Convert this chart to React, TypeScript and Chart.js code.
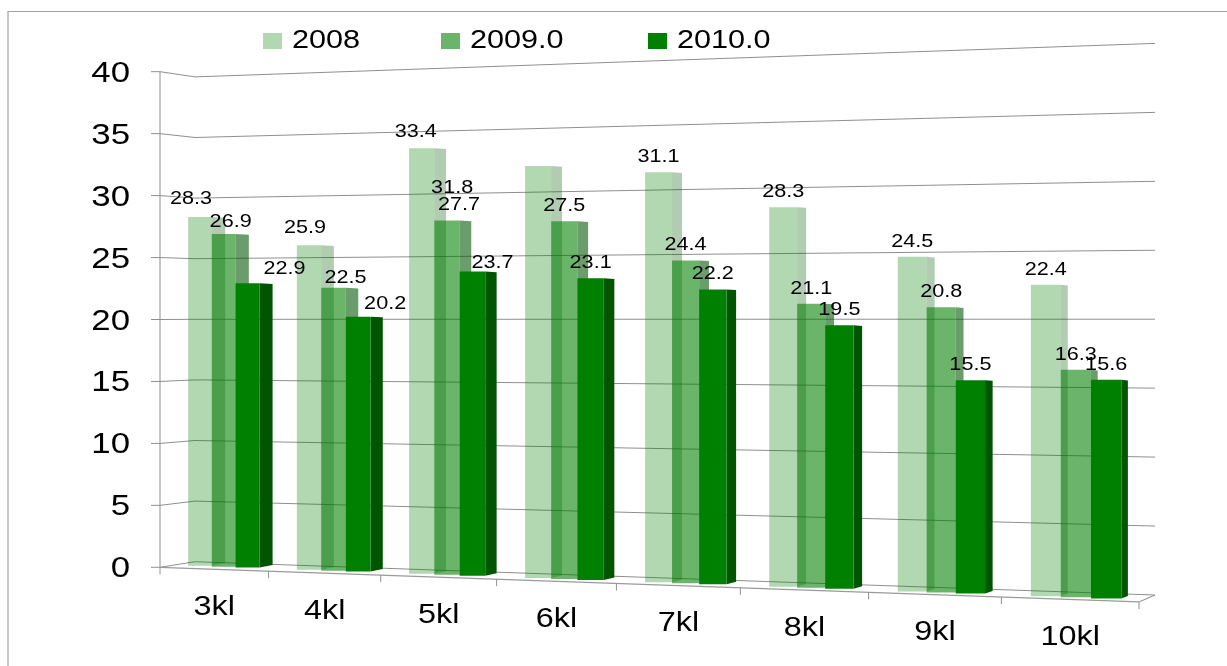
import React, { useEffect, useRef } from "react";
import { Chart, registerables } from "chart.js";

Chart.register(...registerables);

const categories = ["3kl", "4kl", "5kl", "6kl", "7kl", "8kl", "9kl", "10kl"];
const seriesNames = ["2008", "2009.0", "2010.0"];
const values2008 = [28.3, 25.9, 33.4, 31.8, 31.1, 28.3, 24.5, 22.4];
const values2009 = [26.9, 22.5, 27.7, 27.5, 24.4, 21.1, 20.8, 16.3];
const values2010 = [22.9, 20.2, 23.7, 23.1, 22.2, 19.5, 15.5, 15.6];

const frontColors = ["rgba(0,128,0,0.305)", "rgba(0,128,0,0.58)", "rgb(0,128,0)"];
const sideColors = ["rgba(0,85,0,0.3)", "rgba(0,85,0,0.58)", "rgb(0,85,0)"];
const legendSwatches = ["#b1d8b1", "#6bb56b", "#008000"];
const legendBoxX = [263, 441, 648];

// hand-placed data labels in the source: [dx, dy] from the default spot, per series and category
const labelNudges: Record<string, [number, number]> = {
  "0:0": [-9, -3],
  "1:0": [7, 3],
  "2:0": [37, 1],
  "0:1": [-4, -2],
  "1:1": [12, 5],
  "2:1": [27, 2],
  "0:2": [-6, -1],
  "1:2": [12, -1],
  "2:2": [20, 7],
  "0:3": [-86, 37],
};

const STRETCH = 1.2;
const PERSP = 1.145;
const proj = (u: number) => u / (u + PERSP * (1 - u));
const barBase = (x: number) => 568 + 0.036 * (x - 260);
const barUnit = (x: number) => 12.3 + 0.001876 * (x - 188);
const wallY = (x: number, v: number) => {
  const f = (x - 195) / 960;
  return 561.7 + f * 33.3 - v * (12.12 + f * 1.67);
};
const floorFront = (x: number) => 567.3 + (x - 160) * 0.0354;

function stretchedText(ctx: CanvasRenderingContext2D, text: string, x: number, y: number, size: number, align: CanvasTextAlign) {
  ctx.save();
  ctx.translate(x, y);
  ctx.scale(STRETCH, 1);
  ctx.font = `${size}px "Liberation Sans"`;
  ctx.fillStyle = "#000";
  ctx.textAlign = align;
  ctx.textBaseline = "middle";
  ctx.fillText(text, 0, 0);
  ctx.restore();
}

function line(ctx: CanvasRenderingContext2D, pts: number[][], color: string, w: number) {
  ctx.beginPath();
  pts.forEach(([x, y], i) => (i ? ctx.lineTo(x, y) : ctx.moveTo(x, y)));
  ctx.strokeStyle = color;
  ctx.lineWidth = w;
  ctx.stroke();
}

const perspectivePlugin = {
  id: "perspective",
  afterDatasetsUpdate(chart: any) {
    const { chartArea: a, scales } = chart;
    const W = a.right - a.left;
    const warp = (px: number) => {
      const t = (px - a.left) / W;
      return a.left + W * proj(t) + (10 - 4 * t);
    };
    chart.data.datasets.forEach((_: any, d: number) => {
      chart.getDatasetMeta(d).data.forEach((el: any) => {
        const l = warp(el.x - el.width / 2);
        const r = warp(el.x + el.width / 2);
        const mid = (l + r) / 2;
        const v = scales.y.getValueForPixel(el.y);
        el.x = mid;
        el.width = r - l;
        el.base = barBase(mid);
        el.y = el.base - v * barUnit(mid);
      });
    });
  },
  beforeDraw(chart: any) {
    const { ctx, chartArea: a, scales } = chart;
    ctx.save();
    // outer frame
    line(ctx, [[8, 666], [8, 11.5], [1227, 11.5]], "#a3a3a3", 1.2);
    // walls and gridlines
    line(ctx, [[160, a.top], [160, a.bottom]], "#c6c6c6", 2);
    scales.y.ticks.forEach((tick: any) => {
      const y = scales.y.getPixelForValue(tick.value);
      line(ctx, [[151, y], [160, y], [195, wallY(195, tick.value)], [1155, wallY(1155, tick.value)]], "#8f8f8f", 1);
    });
    // floor
    const fr = floorFront(a.right);
    line(ctx, [[160, a.bottom], [a.right, fr], [1155, wallY(1155, 0)]], "#9a9a9a", 1.2);
    for (let i = 0; i <= categories.length; i++) {
      const x = a.left + (a.right - a.left) * proj(i / categories.length);
      line(ctx, [[x, floorFront(x)], [x, floorFront(x) + 7]], "#8f8f8f", 1);
    }
    ctx.restore();
  },
  beforeDatasetsDraw(chart: any) {
    const { ctx, chartArea: a, scales } = chart;
    const W = a.right - a.left;
    // bars, first series at the back
    chart.data.datasets.forEach((_: any, d: number) => {
      const meta = chart.getDatasetMeta(d);
      meta.data.forEach((el: any) => {
        const r = el.x + el.width / 2;
        const t = (el.x - a.left) / W;
        const s = 13.8 - 7.5 * t;
        ctx.beginPath();
        ctx.moveTo(r, el.y);
        ctx.lineTo(r + s, el.y + 0.7);
        ctx.lineTo(r + s, el.base - 2.5);
        ctx.lineTo(r, el.base);
        ctx.closePath();
        ctx.fillStyle = sideColors[d];
        ctx.fill();
      });
      meta.controller.draw();
    });
    // data labels
    chart.data.datasets.forEach((ds: any, d: number) => {
      chart.getDatasetMeta(d).data.forEach((el: any, i: number) => {
        const [dx, dy] = labelNudges[`${d}:${i}`] || [0, 0];
        stretchedText(ctx, String(ds.data[i]), el.x + dx, el.y - 15 + dy, 18, "center");
      });
    });
    // y tick labels
    scales.y.ticks.forEach((tick: any) => {
      stretchedText(ctx, tick.label, 130, scales.y.getPixelForValue(tick.value) + 2, 29, "right");
    });
    // x tick labels
    scales.x.ticks.forEach((tick: any, i: number) => {
      const n = categories.length;
      const x0 = a.left + W * proj(i / n);
      const x1 = a.left + W * proj((i + 1) / n);
      const x = (x0 + x1) / 2;
      stretchedText(ctx, tick.label, x, floorFront(x) + 38, 27, "center");
    });
    // legend
    chart.data.datasets.forEach((ds: any, d: number) => {
      ctx.fillStyle = legendSwatches[d];
      ctx.fillRect(legendBoxX[d], 33, 19, 16);
      stretchedText(ctx, ds.label, legendBoxX[d] + 29, 41, 25.5, "left");
    });
    return false;
  },
};

export default function App() {
  const ref = useRef<HTMLCanvasElement>(null);
  useEffect(() => {
    const chart = new Chart(ref.current as HTMLCanvasElement, {
      type: "bar",
      data: {
        labels: categories,
        datasets: [values2008, values2009, values2010].map((data, i) => ({
          label: seriesNames[i],
          data,
          backgroundColor: frontColors[i],
          borderWidth: 0,
          inflateAmount: 0,
          categoryPercentage: 0.66,
          barPercentage: 1,
        })),
      },
      options: {
        responsive: false,
        animation: false,
        events: [],
        layout: { padding: { left: 160, right: 88, top: 71.7, bottom: 98.7 } },
        plugins: { legend: { display: false }, tooltip: { enabled: false } },
        scales: {
          x: {
            afterFit: (s: any) => { s.height = 0; },
            grid: { display: false },
            border: { display: false },
            ticks: { display: false, autoSkip: false },
          },
          y: {
            min: 0,
            max: 40,
            afterFit: (s: any) => { s.width = 0; },
            grid: { display: false },
            border: { display: false },
            ticks: { display: false, stepSize: 5 },
          },
        },
      },
      plugins: [perspectivePlugin],
    } as any);
    return () => chart.destroy();
  }, []);
  return (
    <canvas
      ref={ref}
      width={1227}
      height={666}
      style={{ position: "fixed", left: 0, top: 0, width: 1227, height: 666, display: "block", background: "#fff" }}
    />
  );
}
